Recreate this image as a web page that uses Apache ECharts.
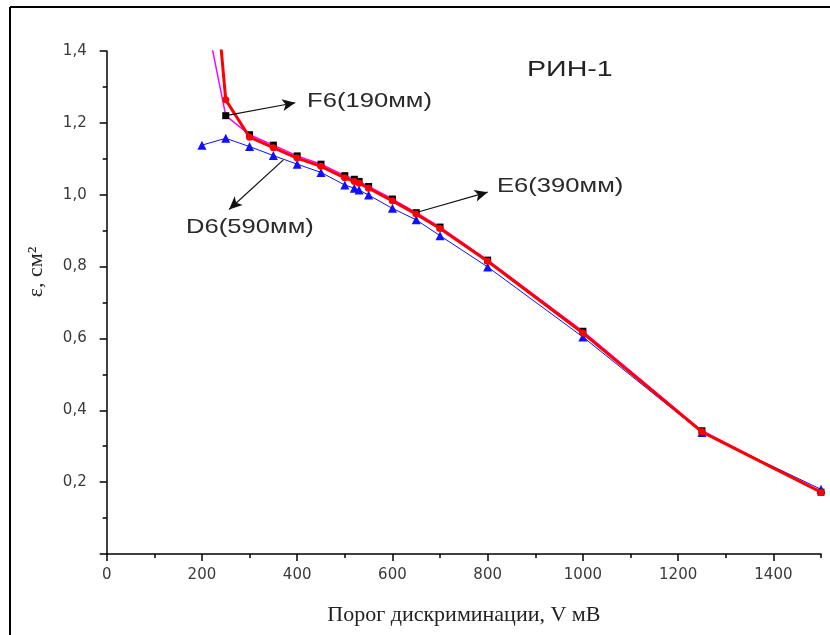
<!DOCTYPE html>
<html>
<head>
<meta charset="utf-8">
<script src="https://cdn.jsdelivr.net/npm/echarts@6/dist/echarts.min.js"></script>
<style>
html,body{margin:0;padding:0;background:#fff;}
#chart{width:830px;height:635px;}
</style>
</head>
<body>
<div id="chart"></div>
<script>
// ---- data ----
const f6X = [200, 250, 300, 350, 400, 450, 500, 520, 530, 550, 600, 650, 700, 800, 1000, 1250, 1500];
const f6Y = [1.55, 1.22, 1.167, 1.138, 1.108, 1.085, 1.053, 1.043, 1.037, 1.023, 0.988, 0.950, 0.910, 0.818, 0.620, 0.343, 0.172];

const e6X = [200, 250, 300, 350, 400, 450, 500, 520, 530, 550, 600, 650, 700, 800, 1000, 1250, 1500];
const e6Y = [2.0, 1.264, 1.160, 1.131, 1.102, 1.079, 1.047, 1.037, 1.032, 1.018, 0.983, 0.946, 0.906, 0.815, 0.615, 0.340, 0.172];

const d6X = [200, 250, 300, 350, 400, 450, 500, 520, 530, 550, 600, 650, 700, 800, 1000, 1250, 1500];
const d6Y = [1.138, 1.157, 1.134, 1.109, 1.085, 1.062, 1.027, 1.018, 1.013, 0.999, 0.962, 0.930, 0.886, 0.799, 0.604, 0.338, 0.180];

const xTickLabels = [0, 200, 400, 600, 800, 1000, 1200, 1400];
const yTickLabels = [0.2, 0.4, 0.6, 0.8, 1.0, 1.2, 1.4];

const titleText = 'РИН-1';
const xName = 'Порог дискриминации, V мВ';
const yName = 'ε, см²';
const labelF6 = 'F6(190мм)';
const labelE6 = 'E6(390мм)';
const labelD6 = 'D6(590мм)';

// arrows in data units: [from, to]
const arrowF6 = [[250, 1.22], [396, 1.256]];
const arrowE6 = [[654, 0.952], [800, 1.007]];
const arrowD6 = [[371, 1.097], [257, 0.959]];

function pairs(xs, ys) {
  return xs.map((x, i) => {
    const v = [x, ys[i]];
    return ys[i] > 1.4 ? { value: v, symbol: 'none' } : v;
  });
}

const chart = echarts.init(document.getElementById('chart'), null, { renderer: 'canvas' });

const tickFont = { fontFamily: 'DejaVu Sans', fontSize: 15, color: '#3a3a3a' };
const arrowLine = { color: '#111', width: 1.2, type: 'solid' };

const option = {
  animation: false,
  backgroundColor: '#fff',
  grid: { left: 106.7, right: 9, top: 51, bottom: 81, containLabel: false },
  xAxis: [{
    type: 'value', min: 0, max: 1500, interval: 200,
    axisLine: { show: true, onZero: false, lineStyle: { color: '#000', width: 1.5 } },
    axisTick: { show: true, inside: false, length: 7, lineStyle: { color: '#000', width: 1.5 }, customValues: xTickLabels },
    axisLabel: Object.assign({ margin: 14, customValues: xTickLabels, formatter: v => String(v) }, tickFont),
    splitLine: { show: false },
    name: xName, nameLocation: 'middle', nameGap: 50,
    nameTextStyle: { fontFamily: 'Liberation Serif', fontSize: 22, color: '#222' }
  }, {
    type: 'value', min: 0, max: 1500, interval: 100, position: 'bottom',
    axisLine: { show: false },
    axisTick: { show: true, length: 4, lineStyle: { color: '#000', width: 1.5 } },
    axisLabel: { show: false },
    splitLine: { show: false }
  }],
  yAxis: {
    type: 'value', min: 0, max: 1.4, interval: 0.2,
    axisLine: { show: true, onZero: false, lineStyle: { color: '#000', width: 1.5 } },
    axisTick: { show: true, length: 7, lineStyle: { color: '#000', width: 1.5 } },
    minorTick: { show: true, splitNumber: 2, length: 4, lineStyle: { color: '#000', width: 1.5 } },
    axisLabel: Object.assign({ margin: 20, formatter: v => (yTickLabels.some(t => Math.abs(t - v) < 1e-6) ? v.toFixed(1).replace('.', ',') : '') }, tickFont),
    splitLine: { show: false }
  },
  series: [
    {
      name: 'D6', type: 'line', data: pairs(d6X, d6Y), clip: true,
      symbol: 'triangle', symbolSize: 9,
      lineStyle: { color: '#1010ff', width: 1 },
      itemStyle: { color: '#1010ff' },
      z: 2,
      markLine: {
        silent: true, symbol: ['none', 'arrow'], symbolSize: [9, 13],
        label: { show: false }, lineStyle: arrowLine, animation: false,
        emphasis: { disabled: true },
        data: [
          [{ coord: arrowF6[0] }, { coord: arrowF6[1] }],
          [{ coord: arrowE6[0] }, { coord: arrowE6[1] }],
          [{ coord: arrowD6[0] }, { coord: arrowD6[1] }]
        ]
      }
    },
    {
      name: 'F6', type: 'line', data: pairs(f6X, f6Y), clip: true,
      symbol: 'rect', symbolSize: 7,
      lineStyle: { color: '#ff00ff', width: 1.5 },
      itemStyle: { color: '#000' },
      z: 3
    },
    {
      name: 'E6', type: 'line', data: pairs(e6X, e6Y), clip: true,
      symbol: 'circle', symbolSize: 7,
      lineStyle: { color: '#ff0000', width: 3 },
      itemStyle: { color: '#ff0000' },
      z: 4
    }
  ],
  graphic: [
    { type: 'line', shape: { x1: 10, y1: 7, x2: 10, y2: 635 }, style: { stroke: '#000', lineWidth: 2 } },
    { type: 'line', shape: { x1: 10, y1: 7, x2: 830, y2: 7 }, style: { stroke: '#000', lineWidth: 2 } },
    { type: 'text', x: 527, y: 70, scaleX: 1.3, style: { text: titleText, font: '22px "Liberation Sans"', fill: '#222', textAlign: 'left', textVerticalAlign: 'middle' } },
    { type: 'text', x: 307, y: 101, scaleX: 1.22, style: { text: labelF6, font: '21px "Liberation Sans"', fill: '#2a2a2a', textAlign: 'left', textVerticalAlign: 'middle' } },
    { type: 'text', x: 497, y: 186, scaleX: 1.22, style: { text: labelE6, font: '21px "Liberation Sans"', fill: '#2a2a2a', textAlign: 'left', textVerticalAlign: 'middle' } },
    { type: 'text', x: 186, y: 227, scaleX: 1.22, style: { text: labelD6, font: '21px "Liberation Sans"', fill: '#2a2a2a', textAlign: 'left', textVerticalAlign: 'middle' } },
    { type: 'text', x: 36, y: 272, rotation: Math.PI / 2, style: { text: yName, font: '22px "Liberation Serif"', fill: '#222', textAlign: 'center', textVerticalAlign: 'middle' } }
  ]
};
chart.setOption(option);
</script>
</body>
</html>
